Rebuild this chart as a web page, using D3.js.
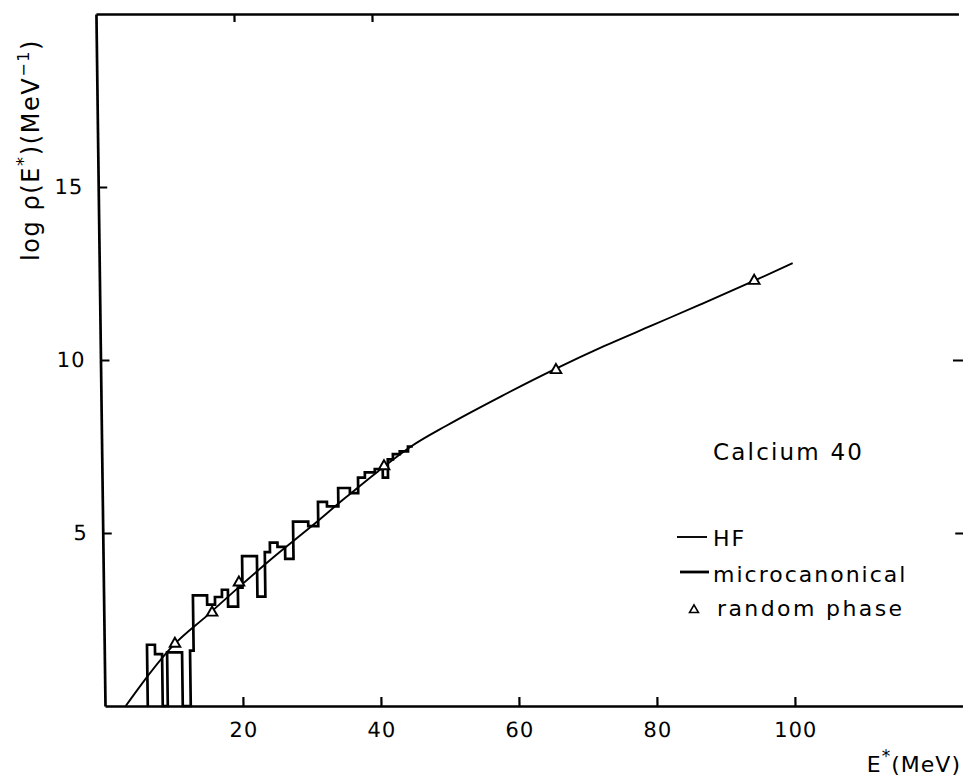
<!DOCTYPE html>
<html>
<head>
<meta charset="utf-8">
<script src="https://cdn.jsdelivr.net/npm/d3@7"></script>
<style>
  body { margin: 0; background: #fff; }
  svg { display: block; font-family: "DejaVu Sans", sans-serif; }
</style>
</head>
<body>
<svg id="canvas"></svg>
<script>
// HF level density (thin smooth line)
const hfEnergy = [3, 5.3, 10, 15, 20, 25, 30, 35, 40, 45, 50, 58, 66, 73, 80, 87, 95, 100.5];
const hfLogRho = [0, 0.62, 1.75, 2.62, 3.5, 4.35, 5.15, 5.98, 6.78, 7.52, 8.1, 8.95, 9.75, 10.4, 11.0, 11.6, 12.3, 12.8];

// microcanonical histogram: bin left edges and heights
const microEnergy = [6.2, 6.2, 7.35, 8.37, 9.1, 11.27, 12.43, 12.95, 15.0, 16.14, 17.16, 18.03, 19.48, 20.15, 22.3, 23.45, 24.2, 25.3, 26.4, 27.6, 29.8, 31.25, 32.55, 34.2, 35.9, 37.1, 38.1, 39.55, 40.7, 41.45, 42.2, 43.2, 44.4, 45.1];
const microLogRho = [0, 1.77, 1.5, 0, 1.55, 0, 1.6, 3.2, 2.93, 3.15, 3.36, 2.87, 3.42, 4.33, 3.16, 4.45, 4.72, 4.6, 4.25, 5.33, 5.2, 5.9, 5.77, 6.3, 6.15, 6.6, 6.75, 6.85, 6.6, 7.13, 7.28, 7.36, 7.5, 7.5];

// random phase approximation points
const rpaEnergy = [10.26, 15.7, 19.65, 40.9, 66.0, 94.9];
const rpaLogRho = [1.77, 2.67, 3.54, 6.9, 9.68, 12.26];

const xTickValues = [20, 40, 60, 80, 100];
const yTickValues = [5, 10, 15];
const topTickValues = [20, 40];
const rightTickValues = [5, 10];

const legendLabels = ["HF", "microcanonical", "random phase"];
const title = "Calcium 40";

const width = 963;
const height = 778;

const canvas = d3.select("#canvas").attr("width", width).attr("height", height);

const xScale = d3.scaleLinear().domain([0, 125]).range([105, 967.5]);
const yScale = d3.scaleLinear().domain([0, 20]).range([706, 14]);

// the scanned figure leans slightly: verticals tilt left toward the top
const plot = canvas
  .append("g")
  .attr("transform", "translate(105,706) skewX(0.75) translate(-105,-706)");

const styleAxis = (g) => {
  g.select(".domain").attr("stroke", "#000").attr("stroke-width", 2.7);
  g.selectAll(".tick line").attr("stroke", "#000").attr("stroke-width", 2.2);
  g.selectAll(".tick text").attr("fill", "#000").attr("font-size", 21).attr("letter-spacing", 1);
};

plot
  .append("g")
  .attr("transform", `translate(0, ${yScale(0)})`)
  .call(d3.axisBottom(xScale).tickValues(xTickValues).tickSize(-9).tickSizeOuter(0).tickPadding(16).tickFormat(d3.format("d")))
  .call(styleAxis)
  .attr("font-family", null);

plot
  .append("g")
  .attr("transform", `translate(${xScale(0)}, 0)`)
  .call(d3.axisLeft(yScale).tickValues(yTickValues).tickSize(-9).tickSizeOuter(0).tickPadding(15).tickFormat(d3.format("d")))
  .call(styleAxis)
  .attr("font-family", null);

plot
  .append("g")
  .attr("transform", `translate(0, ${yScale(20)})`)
  .call(d3.axisTop(xScale).tickValues(topTickValues).tickSize(-8).tickSizeOuter(0).tickFormat(""))
  .call(styleAxis);

// right frame lies just past the cropped edge: only its ticks show
plot
  .append("g")
  .attr("transform", `translate(${xScale(125)}, 0)`)
  .call(d3.axisRight(yScale).tickValues(rightTickValues).tickSize(-10).tickSizeOuter(0).tickFormat(""))
  .call(styleAxis)
  .call((g) => g.select(".domain").attr("stroke", "none"));

// HF curve
const hfLine = d3
  .line()
  .x((d, i) => xScale(hfEnergy[i]))
  .y((d) => yScale(d))
  .curve(d3.curveMonotoneX);

plot
  .append("path")
  .attr("d", hfLine(hfLogRho))
  .attr("fill", "none")
  .attr("stroke", "#000")
  .attr("stroke-width", 1.9);

// microcanonical histogram
const microLine = d3
  .line()
  .x((d, i) => xScale(microEnergy[i]))
  .y((d) => yScale(d))
  .curve(d3.curveStepAfter);

plot
  .append("path")
  .attr("d", microLine(microLogRho))
  .attr("fill", "none")
  .attr("stroke", "#000")
  .attr("stroke-width", 2.7)
  .attr("stroke-linejoin", "miter");

// random phase points
const triangle = d3.symbol().type(d3.symbolTriangle).size(48);

plot
  .selectAll(".rpa")
  .data(rpaLogRho)
  .enter()
  .append("path")
  .attr("class", "rpa")
  .attr("d", triangle)
  .attr("transform", (d, i) => `translate(${xScale(rpaEnergy[i])}, ${yScale(d) - 1})`)
  .attr("fill", "#fff")
  .attr("stroke", "#000")
  .attr("stroke-width", 1.9);

// y label
const yLabel = canvas
  .append("text")
  .attr("transform", "translate(39, 150) rotate(-90)")
  .attr("text-anchor", "middle")
  .attr("font-size", 24)
  .attr("letter-spacing", 1.6);
yLabel.append("tspan").text("log \u03c1(E");
yLabel.append("tspan").attr("dy", -10).attr("font-size", 18).text("*");
yLabel.append("tspan").attr("dy", 10).text(")(MeV");
yLabel.append("tspan").attr("dy", -10).attr("font-size", 16).text("\u22121");
yLabel.append("tspan").attr("dy", 10).text(")");

// x label
const xLabel = canvas
  .append("text")
  .attr("x", 961)
  .attr("y", 772)
  .attr("text-anchor", "end")
  .attr("font-size", 22)
  .attr("letter-spacing", 1);
xLabel.append("tspan").text("E");
xLabel.append("tspan").attr("dy", -10).attr("font-size", 17).text("*");
xLabel.append("tspan").attr("dy", 10).text("(MeV)");

// legend
canvas
  .append("text")
  .attr("x", 713)
  .attr("y", 460)
  .attr("font-size", 23)
  .attr("letter-spacing", 2.2)
  .text(title);

const legend = canvas.append("g").attr("font-size", 22).attr("letter-spacing", 2);

legend.append("line").attr("x1", 677).attr("x2", 707).attr("y1", 537).attr("y2", 537).attr("stroke", "#000").attr("stroke-width", 1.9);
legend.append("text").attr("x", 713).attr("y", 546).text(legendLabels[0]);

legend.append("line").attr("x1", 680).attr("x2", 709).attr("y1", 572).attr("y2", 572).attr("stroke", "#000").attr("stroke-width", 2.8);
legend.append("text").attr("x", 713).attr("y", 582).text(legendLabels[1]);

legend
  .append("path")
  .attr("d", d3.symbol().type(d3.symbolTriangle).size(34)())
  .attr("transform", "translate(694, 610)")
  .attr("fill", "#fff")
  .attr("stroke", "#000")
  .attr("stroke-width", 1.6);
legend.append("text").attr("x", 717).attr("y", 616).attr("letter-spacing", 2.4).text(legendLabels[2]);
</script>
</body>
</html>
